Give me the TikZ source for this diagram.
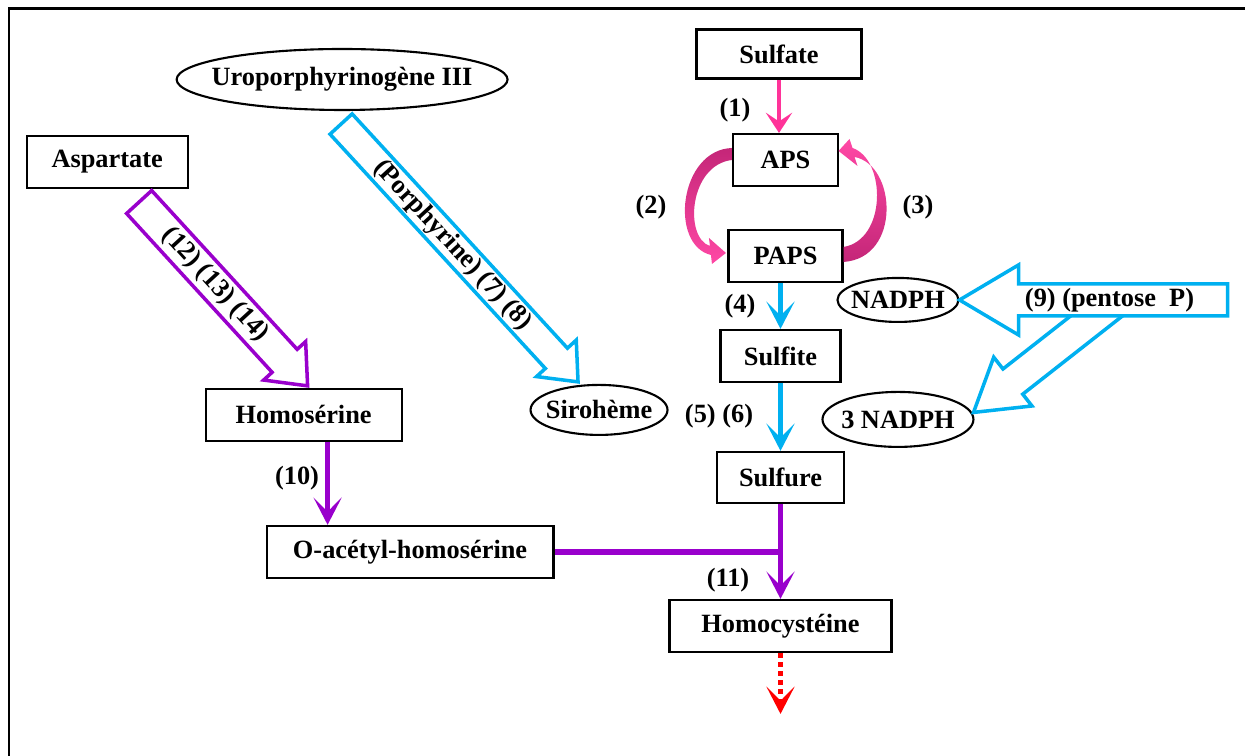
\documentclass[tikz,border=0pt]{standalone}
\usepackage{fontspec}
\setmainfont{Liberation Serif}
\usetikzlibrary{positioning,arrows.meta,calc,shapes.geometric}
\definecolor{rose}{RGB}{255,51,153}
\definecolor{roseclair}{RGB}{255,72,165}
\definecolor{rosefonce}{RGB}{196,38,120}
\definecolor{cyanbleu}{RGB}{0,176,240}
\definecolor{pourpre}{RGB}{153,0,204}

% 空心大箭头: 样式, 起点, 终点, 箭身半宽, 箭头半宽, 箭头长
\newcommand{\bigarrow}[6]{%
  \coordinate (bb) at ($(#3)!#6!(#2)$);
  \draw[#1] ($(#2)!#4!90:(#3)$) -- ($(bb)!#4!90:(#3)$) -- ($(bb)!#5!90:(#3)$) -- (#3)
    -- ($(bb)!#5!-90:(#3)$) -- ($(bb)!#4!-90:(#3)$) -- ($(#2)!#4!-90:(#3)$) -- cycle;
}
% 椭圆内文字不撑大椭圆
\newcommand{\ovaltext}[1]{\makebox[0pt]{#1}}

\begin{document}
\begin{tikzpicture}[
  x=0.02cm, y=-0.02cm,
  node distance=2cm and 2cm,
  on grid,
  font=\fontsize{15}{18}\selectfont\bfseries,
  >={Stealth[length=15.5pt,width=16pt,inset=8pt]}, % 箭头样式
  box/.style={draw, line width=1.2pt, inner sep=0pt},
  oval/.style={draw, ellipse, line width=1.2pt, inner sep=0pt},
  flowpink/.style={->, draw=rose, line width=2.3pt, >={Stealth[length=11.5pt,width=15pt,inset=5pt]}},
  flowblue/.style={->, draw=cyanbleu, line width=3.4pt},
  flowpurple/.style={->, draw=pourpre, line width=3.1pt},
  flowred/.style={->, draw=red, line width=2.3pt, dash pattern=on 2.6pt off 2.6pt},
  hollow/.style={fill=white, line width=2pt, line join=miter}
]
\useasboundingbox (0,0) rectangle (1245,756);

% 外框
\draw[line width=1.7pt] (9,757) -- (9,9) -- (1246,9);

% 主链
\node (sulfate) [box, minimum width=3.3cm, minimum height=0.98cm] at (779,54) {Sulfate};
\node (aps) [box, minimum width=2.1cm, minimum height=1.04cm, below right=2.12cm and 0.13cm of sulfate] {APS};
\node (paps) [box, minimum width=2.28cm, minimum height=1.04cm, below=1.92cm of aps] {PAPS};
\node (sulfite) [box, minimum width=2.4cm, minimum height=1.04cm, below left=2cm and 0.1cm of paps] {Sulfite};
\node (sulfure) [box, minimum width=2.54cm, minimum height=1.02cm, below=2.43cm of sulfite] {Sulfure};
\node (homocys) [box, minimum width=4.44cm, minimum height=1.04cm, below=2.97cm of sulfure] {Homocystéine};

% 左侧
\node (oacetyl) [box, minimum width=5.74cm, minimum height=1.04cm, above left=1.48cm and 7.41cm of homocys] {O-acétyl-homosérine};
\node (homoser) [box, minimum width=3.92cm, minimum height=1.04cm, above left=2.74cm and 2.13cm of oacetyl] {Homosérine};
\node (aspartate) [box, minimum width=3.22cm, minimum height=1.04cm, above left=5.06cm and 3.93cm of homoser] {Aspartate};
\node (uro) [oval, minimum width=6.62cm, minimum height=1.22cm, above right=1.65cm and 4.7cm of aspartate] {\ovaltext{Uroporphyrinogène III}};
\node (siroheme) [oval, minimum width=2.74cm, minimum height=1cm, below left=1.08cm and 3.63cm of sulfite] {\ovaltext{Sirohème}};

% 右侧
\node (nadph) [oval, minimum width=2.42cm, minimum height=0.88cm, below right=0.88cm and 2.25cm of paps] {\ovaltext{NADPH}};
\node (nadphtrois) [oval, minimum width=3.02cm, minimum height=1.1cm, below=2.39cm of nadph] {\ovaltext{3 NADPH}};

% 直箭头
\draw[flowpink] (sulfate.south) -- (sulfate.south |- aps.north);
\draw[flowblue] (sulfite.north |- paps.south) -- (sulfite.north);
\draw[flowblue] (sulfite) -- (sulfure);
\draw[flowpurple] (sulfure) -- (homocys);
\draw[pourpre, line width=3.1pt] (oacetyl.east) -- (oacetyl.east -| sulfure.south);
\coordinate (h10) at ($(homoser.south)+(24,0)$);
\draw[flowpurple] (h10) -- (h10 |- oacetyl.north);
\coordinate (suite) at ($(homocys.south)+(0,61)$);
\draw[flowred] (homocys.south) -- (suite);

% APS <-> PAPS 弯箭头
\begin{scope}[shift={(aps.west)}]
  \shade[top color=rosefonce, bottom color=roseclair] (0,-12) .. controls (-53,-10) and (-63,85) .. (-21,95)
    -- (-20,104) -- (-6,93) -- (-23,78) -- (-22,86) .. controls (-48,78) and (-43,5) .. (0,0) -- cycle;
\end{scope}
\begin{scope}[shift={(paps.east)}]
  \shade[top color=roseclair, bottom color=rosefonce] (0,6) .. controls (58,2) and (53,-91) .. (11,-99)
    -- (14,-90) -- (-5,-105) -- (6,-117) -- (9,-108) .. controls (43,-96) and (43,-16) .. (0,-9) -- cycle;
\end{scope}

% 空心箭头
\coordinate (asptail) at ($(aspartate.south)+(32,13)$);
\coordinate (asptip) at ($(homoser.north)+(4,-2)$);
\bigarrow{draw=pourpre, hollow}{asptail}{asptip}{0.34cm}{0.57cm}{0.68cm}
\path (asptail) -- node (txtasp) [sloped, pos=0.45] {(12) (13) (14)} (asptip);

\coordinate (portail) at ($(uro.south)+(-1,13)$);
\coordinate (portip) at ($(siroheme.north)+(-21,-2)$);
\bigarrow{draw=cyanbleu, hollow}{portail}{portip}{0.3cm}{0.54cm}{0.64cm}
\path (portail) -- node (txtpor) [sloped, pos=0.47] {(Porphyrine) (7) (8)} (portip);

\coordinate (branchtail) at ($(nadph.east)+(160,-2)$);
\coordinate (branchtip) at ($(nadphtrois.east)+(-1,-7)$);
\bigarrow{draw=cyanbleu, hollow}{branchtail}{branchtip}{0.32cm}{0.62cm}{1cm}
\coordinate (pentail) at ($(nadph.east)+(268,0)$);
\coordinate (pentip) at (nadph.east);
\bigarrow{draw=cyanbleu, hollow}{pentail}{pentip}{0.32cm}{0.7cm}{1.18cm}
\node (txtpen) at ($(pentip)+(150,0)$) {(9) (pentose\ \ P)};

% 反应编号
\node (r1) at (735,110) {(1)};
\node (r2) at (651,207) {(2)};
\node (r3) at (918,207) {(3)};
\node (r4) at (740,306) {(4)};
\node (r56) at (719,416) {(5) (6)};
\node (r10) at (297,478) {(10)};
\node (r11) at (728,580) {(11)};
\end{tikzpicture}
\end{document}
